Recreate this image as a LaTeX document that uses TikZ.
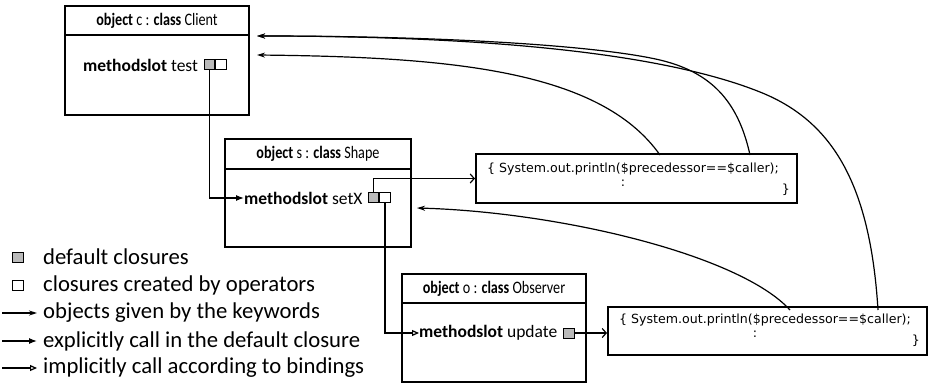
\documentclass[tikz,border=0pt]{standalone}
\usepackage{fontspec}
\setmainfont{Carlito}
\newfontfamily\titlefont[FakeStretch=0.81]{Carlito}
\newfontfamily\codefont{DejaVu Sans}
\usetikzlibrary{arrows.meta}

\begin{document}
\begin{tikzpicture}[x=1pt,y=-1pt,
        objbox/.style={rectangle,draw=black,line width=2.6pt,inner sep=0pt},
        titlebar/.style={rectangle,draw=black,line width=2.6pt,inner sep=0pt,
          font=\titlefont\fontsize{17.5}{19}\selectfont},
        slot/.style={anchor=west,inner sep=0pt,font=\fontsize{17.5}{19}\selectfont},
        defclos/.style={rectangle,draw=black,fill=black!27,line width=1pt,
          inner sep=0pt,minimum width=10.5pt,minimum height=10pt},
        opclos/.style={defclos,fill=white},
        codebox/.style={rectangle,draw=black,line width=2pt,inner sep=0pt},
        code/.style={inner sep=0pt,font=\codefont\fontsize{12.6}{14}\selectfont},
        legend/.style={anchor=west,inner sep=0pt,font=\fontsize{22.7}{24}\selectfont},
        conn/.style={line width=1.2pt},
        keyword/.style={conn,-{Stealth[length=8pt,width=5pt]}},
        explicit/.style={conn,-{Latex[length=8pt,width=6pt]}},
        implicit/.style={conn,-{Triangle[open,length=7pt,width=6pt]}},
        pointto/.style={conn,-{Straight Barb[length=4pt,width=9pt]}}]
      \useasboundingbox (0,0) rectangle (930,389);
      % objects
      \node (client) at (157,60.5) [objbox,minimum width=184pt,minimum height=109pt] {};
      \node (clienttitle) at (157,20.5) [titlebar,minimum width=184pt,minimum height=29pt]
        {\textbf{object} c : \textbf{class} Client};
      \node (shape) at (318,193) [objbox,minimum width=186pt,minimum height=108pt] {};
      \node (shapetitle) at (318,154) [titlebar,minimum width=186pt,minimum height=30pt]
        {\textbf{object} s : \textbf{class} Shape};
      \node (observer) at (494,328) [objbox,minimum width=184pt,minimum height=108pt] {};
      \node (observertitle) at (494,288.5) [titlebar,minimum width=184pt,minimum height=29pt]
        {\textbf{object} o : \textbf{class} Observer};
      % method slots and closures
      \node (ctest) at (83,65) [slot] {\textbf{methodslot} test};
      \node (ctestdef) at (209.5,64.5) [defclos] {};
      \node (ctestop) at (ctestdef.east) [opclos,anchor=west] {};
      \node (ssetx) at (244,198) [slot] {\textbf{methodslot} setX};
      \node (ssetxdef) at (373.5,197.5) [defclos] {};
      \node (ssetxop) at (ssetxdef.east) [opclos,anchor=west] {};
      \node (oupd) at (419,333) [slot] {\textbf{methodslot} update};
      \node (oupddef) at (569,333) [defclos] {};
      % code
      \node (code1) at (636.5,178.5) [codebox,minimum width=321pt,minimum height=49pt] {};
      \node (code1line) at (487,169) [code,anchor=west] {\{ System.out.println(\$precedessor==\$caller);};
      \node (code1dots) at (623,183) [code] {:};
      \node (code1end) at (786,190) [code] {\}};
      \node (code2) at (767.5,331) [codebox,minimum width=319pt,minimum height=48pt] {};
      \node (code2line) at (619,320) [code,anchor=west] {\{ System.out.println(\$precedessor==\$caller);};
      \node (code2dots) at (755,334) [code] {:};
      \node (code2end) at (916,341) [code] {\}};
      % calls
      \draw[explicit] (ctestdef.south) |- (ssetx.west);
      \draw[pointto] (ssetxdef.north) |- (code1.west);
      \draw[implicit] (ssetxop.south) |- (oupd.west);
      \draw[pointto] (oupddef.east) -- (oupddef.east -| code2.west);
      % keywords
      \coordinate (c1pre) at (660,155);
      \coordinate (c1cal) at (750,155);
      \coordinate (c2pre) at (790,310);
      \coordinate (c2cal) at (878,310);
      \coordinate (clientin1) at (257,36);
      \coordinate (clientin2) at (257,55);
      \coordinate (shapein) at (417,208);
      \draw[keyword] (c2cal) .. controls (870,180) and (830,120) .. (760,92)
        .. controls (650,48) and (450,36) .. (clientin1);
      \draw[keyword] (c1cal) .. controls (738,100) and (710,72) .. (660,60)
        .. controls (600,46) and (450,36) .. (clientin1);
      \draw[keyword] (c1pre) .. controls (600,70) and (450,57) .. (clientin2);
      \draw[keyword] (c2pre) .. controls (740,255) and (560,212) .. (shapein);
      % legend
      \node (ldef) at (18,257) [defclos] {};
      \node (ldeftext) at (43,257) [legend] {default closures};
      \node (lop) at (18,285) [opclos] {};
      \node (loptext) at (43,285) [legend] {closures created by operators};
      \coordinate (lkwa) at (2,313);
      \coordinate (lkwb) at (37,313);
      \draw[keyword] (lkwa) -- (lkwb);
      \node (lkwtext) at (43,313) [legend] {objects given by the keywords};
      \coordinate (lexa) at (2,341);
      \coordinate (lexb) at (37,341);
      \draw[explicit] (lexa) -- (lexb);
      \node (lextext) at (43,341) [legend] {explicitly call in the default closure};
      \coordinate (lima) at (2,368);
      \coordinate (limb) at (37,368);
      \draw[implicit] (lima) -- (limb);
      \node (limtext) at (43,368) [legend] {implicitly call according to bindings};
\end{tikzpicture}
\end{document}
